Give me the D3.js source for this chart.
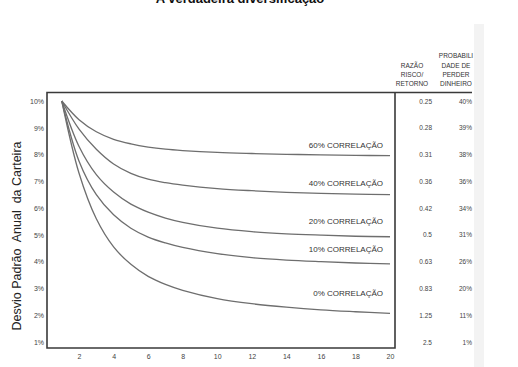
<!DOCTYPE html>
<html>
<head>
<meta charset="utf-8">
<script src="https://cdn.jsdelivr.net/npm/d3@7"></script>
<style>
  body { margin: 0; background: #fff; }
  svg { display: block; font-family: "Liberation Sans", Arial, sans-serif; }
</style>
</head>
<body>
<div id="chart"></div>
<script>
//////////////////////////////////////////////////////////////////////////////
// Data

const title = "A verdadeira diversificação";
const yTitle = "Desvio Padrão  Anual  da Carteira";

const nStocks = [1, 2, 3, 4, 5, 6, 7, 8, 10, 12, 14, 16, 18, 20];
const corr60 = [10, 9.3, 8.85, 8.57, 8.4, 8.28, 8.2, 8.15, 8.08, 8.04, 8.01, 7.99, 7.97, 7.96];
const corr40 = [10, 8.95, 8.2, 7.65, 7.3, 7.08, 6.95, 6.86, 6.73, 6.65, 6.59, 6.55, 6.52, 6.5];
const corr20 = [10, 8.3, 7.25, 6.6, 6.15, 5.85, 5.63, 5.47, 5.25, 5.12, 5.04, 4.99, 4.95, 4.93];
const corr10 = [10, 7.75, 6.5, 5.75, 5.25, 4.92, 4.7, 4.53, 4.3, 4.15, 4.06, 4.0, 3.95, 3.92];
const corr00 = [10, 7.3, 5.6, 4.55, 3.9, 3.45, 3.15, 2.93, 2.62, 2.43, 2.3, 2.2, 2.13, 2.07];

const seriesNames = ["60% CORRELAÇÃO", "40% CORRELAÇÃO", "20% CORRELAÇÃO", "10% CORRELAÇÃO", "0% CORRELAÇÃO"];
const seriesValues = [corr60, corr40, corr20, corr10, corr00];
const labelLevels = [8.25, 6.82, 5.4, 4.35, 2.7];   // y value of each label baseline

const xTicks = [2, 4, 6, 8, 10, 12, 14, 16, 18, 20];
const yTicks = [10, 9, 8, 7, 6, 5, 4, 3, 2, 1];

const riskReturn = ["0.25", "0.28", "0.31", "0.36", "0.42", "0.5", "0.63", "0.83", "1.25", "2.5"];
const lossProb = ["40%", "39%", "38%", "36%", "34%", "31%", "26%", "20%", "11%", "1%"];
const headRisk = ["RAZÃO", "RISCO/", "RETORNO"];
const headProb = ["PROBABILI", "DADE DE", "PERDER", "DINHEIRO"];

//////////////////////////////////////////////////////////////////////////////
// Canvas and scales

const width = 518;
const height = 367;
const box = {left: 47, top: 92.5, right: 395, bottom: 348};

const x = d3.scaleLinear().domain([0, 20]).range([44.5, 390]);
const y = d3.scaleLinear().domain([1, 10]).range([342, 101]);

const svg = d3.select("#chart").append("svg")
    .attr("width", width)
    .attr("height", height);

// faint grey strip at the right side of the scan
svg.append("rect")
    .attr("x", 474).attr("y", 24)
    .attr("width", 10).attr("height", height - 24)
    .attr("fill", "#f3f3f3");

// title, mostly cropped off the top
svg.append("text")
    .attr("x", 240).attr("y", 3)
    .attr("text-anchor", "middle")
    .style("font", "bold 13px 'Liberation Sans', Arial, sans-serif")
    .attr("fill", "#111")
    .text(title);

//////////////////////////////////////////////////////////////////////////////
// Axes

const xAxis = d3.axisBottom(x).tickValues(xTicks).tickSize(0).tickPadding(5);
const yAxis = d3.axisLeft(y).tickValues(yTicks).tickSize(0).tickPadding(2)
    .tickFormat(d => d + "%");

svg.append("g")
    .attr("transform", `translate(0,${box.bottom + 1})`)
    .call(xAxis)
    .call(g => g.select(".domain").remove())
    .call(g => g.selectAll("text").attr("fill", "#444").style("font-size", "7px"));

svg.append("g")
    .attr("transform", `translate(${box.left - 1},0)`)
    .call(yAxis)
    .call(g => g.select(".domain").remove())
    .call(g => g.selectAll("text").attr("fill", "#444").style("font-size", "7px"));

svg.append("text")
    .attr("transform", "translate(21,236) rotate(-90)")
    .attr("text-anchor", "middle")
    .style("font-size", "12.5px")
    .style("white-space", "pre")
    .attr("fill", "#222")
    .text(yTitle);

//////////////////////////////////////////////////////////////////////////////
// Curves

const line = d3.line()
    .x((d, i) => x(nStocks[i]))
    .y(d => y(d))
    .curve(d3.curveCatmullRom.alpha(0.5));

svg.append("g")
    .selectAll("path")
    .data(seriesValues)
    .join("path")
    .attr("fill", "none")
    .attr("stroke", "#6e6e6e")
    .attr("stroke-width", 1.3)
    .attr("d", line);

svg.append("g")
    .selectAll("text")
    .data(seriesNames)
    .join("text")
    .attr("x", 383)
    .attr("y", (d, i) => y(labelLevels[i]))
    .attr("text-anchor", "end")
    .style("font-size", "8px")
    .attr("fill", "#333")
    .text(d => d);

// plot frame; the top rule runs on under the table headers
svg.append("path")
    .attr("fill", "none")
    .attr("stroke", "#3a3a3a")
    .attr("stroke-width", 1.6)
    .attr("d", `M${box.right},${box.top}H${box.left}V${box.bottom}H${box.right}V${box.top}H472`);

//////////////////////////////////////////////////////////////////////////////
// Side table

const table = svg.append("g")
    .style("font-size", "6.5px")
    .attr("fill", "#444");

table.selectAll("text.risk")
    .data(riskReturn)
    .join("text")
    .attr("class", "risk")
    .attr("x", 432)
    .attr("y", (d, i) => y(yTicks[i]) + 2.5)
    .attr("text-anchor", "end")
    .text(d => d);

table.selectAll("text.prob")
    .data(lossProb)
    .join("text")
    .attr("class", "prob")
    .attr("x", 472)
    .attr("y", (d, i) => y(yTicks[i]) + 2.5)
    .attr("text-anchor", "end")
    .text(d => d);

table.selectAll("text.hrisk")
    .data(headRisk)
    .join("text")
    .attr("class", "hrisk")
    .attr("x", 412)
    .attr("y", (d, i) => 67.5 + i * 9.2)
    .attr("text-anchor", "middle")
    .attr("fill", "#333")
    .text(d => d);

table.selectAll("text.hprob")
    .data(headProb)
    .join("text")
    .attr("class", "hprob")
    .attr("x", 456)
    .attr("y", (d, i) => 58.3 + i * 9.2)
    .attr("text-anchor", "middle")
    .attr("fill", "#333")
    .text(d => d);
</script>
</body>
</html>
